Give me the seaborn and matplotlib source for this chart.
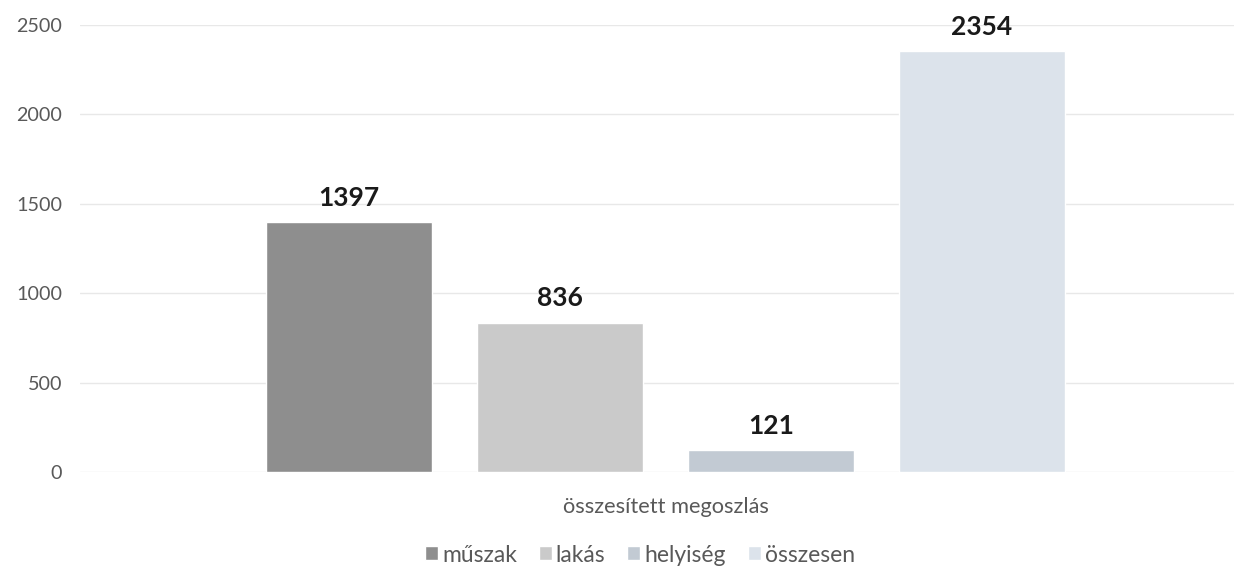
import matplotlib
matplotlib.use("Agg")
import matplotlib.pyplot as plt
import seaborn as sns
import pandas as pd

categories = ["összesített megoszlás"]
series = ["műszak", "lakás", "helyiség", "összesen"]
values = [1397, 836, 121, 2354]
colors = ["#8e8e8e", "#cacaca", "#c2cad3", "#dce3eb"]
yticks = [0, 500, 1000, 1500, 2000, 2500]

sns.set_theme(style="white")
plt.rcParams["font.family"] = ["Lato", "DejaVu Sans"]

df = pd.DataFrame({"group": categories * len(series), "series": series, "value": values})

W, H = 1234, 567
fig = plt.figure(figsize=(W / 100, H / 100), dpi=100)
ax = fig.add_axes([80 / W, (H - 472) / H, (1234 - 80) / W, 447 / H])

sns.barplot(data=df, x="group", y="value", hue="series", hue_order=series,
            palette=colors, width=0.8, gap=0.21, ax=ax, legend=True, saturation=1)

ax.set_ylim(0, 2500)
ax.set_xlim(-0.555, 0.539)
ax.set_yticks(yticks)
ax.set_yticklabels([str(t) for t in yticks], fontsize=14.2, color="#595959")
ax.tick_params(axis="y", length=0, pad=13)
ax.tick_params(axis="x", length=0, pad=18, labelsize=15, labelcolor="#595959")
ax.set_xlabel("")
ax.set_ylabel("")
ax.grid(axis="y", color="#e8e8e8", linewidth=1)
ax.set_axisbelow(True)
for s in ax.spines.values():
    s.set_visible(False)

for cont in ax.containers:
    ax.bar_label(cont, fmt="%d", padding=9, fontsize=19, fontweight="bold",
                 color="#1a1a1a", clip_on=False)

MARK_PX, TXTPAD_PX, COLSP_PX, LEG_W = 13, 4, 22, 431


def make_legend(fs):
    em = fs * 100 / 72
    lg = ax.legend(loc="center", bbox_to_anchor=(640 / W, 12 / H),
                   bbox_transform=fig.transFigure, ncol=4, frameon=False,
                   fontsize=fs, handlelength=MARK_PX / em, handleheight=MARK_PX / em,
                   handletextpad=TXTPAD_PX / em, columnspacing=COLSP_PX / em,
                   borderpad=0.0)
    for t in lg.get_texts():
        t.set_color("#595959")
    return lg


fig.canvas.draw()
r = fig.canvas.get_renderer()
# fit x label width (~207 px) to the reference
lbl = ax.get_xticklabels()[0]
wl = lbl.get_window_extent(r).width
fs_x = 15 * 207 / wl
ax.tick_params(axis="x", labelsize=fs_x)

# fit legend total width (~431 px)
fixed = 4 * (MARK_PX + TXTPAD_PX) + 3 * COLSP_PX
fs_leg = fs_x
for _ in range(3):
    leg = make_legend(fs_leg)
    fig.canvas.draw()
    w = leg.get_window_extent(r).width
    fs_leg *= (LEG_W - fixed) / max(1.0, (w - fixed))
leg = make_legend(fs_leg)

fig.savefig("out.png", dpi=100, facecolor="white")
